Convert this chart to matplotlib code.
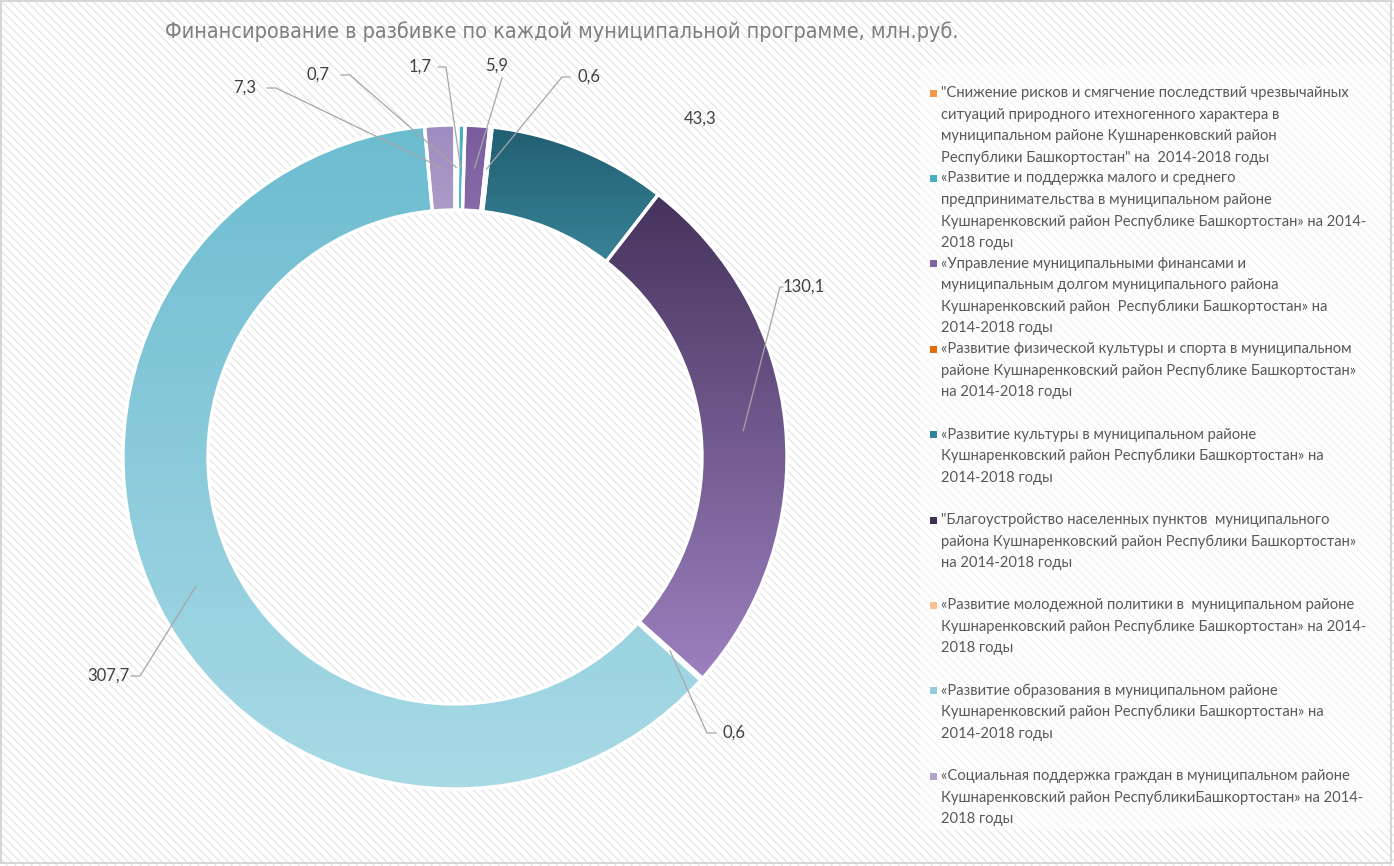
import numpy as np
import matplotlib
matplotlib.use('Agg')
from matplotlib import pyplot as plt
from matplotlib.patches import Wedge, Rectangle
from matplotlib.colors import to_rgb

plt.rcParams['font.family'] = ['Lato', 'DejaVu Sans']
plt.rcParams['hatch.linewidth'] = 0.8

title = 'Финансирование в разбивке по каждой муниципальной программе, млн.руб.'

programs = [
    '"Снижение рисков и смягчение последствий чрезвычайных\nситуаций природного итехногенного характера в\nмуниципальном районе Кушнаренковский район\nРеспублики Башкортостан" на  2014-2018 годы',
    '«Развитие и поддержка малого и среднего\nпредпринимательства в муниципальном районе\nКушнаренковский район Республике Башкортостан» на 2014-\n2018 годы',
    '«Управление муниципальными финансами и\nмуниципальным долгом муниципального района\nКушнаренковский район  Республики Башкортостан» на\n2014-2018 годы',
    '«Развитие физической культуры и спорта в муниципальном\nрайоне Кушнаренковский район Республике Башкортостан»\nна 2014-2018 годы',
    '«Развитие культуры в муниципальном районе\nКушнаренковский район Республики Башкортостан» на\n2014-2018 годы',
    '"Благоустройство населенных пунктов  муниципального\nрайона Кушнаренковский район Республики Башкортостан»\nна 2014-2018 годы',
    '«Развитие молодежной политики в  муниципальном районе\nКушнаренковский район Республике Башкортостан» на 2014-\n2018 годы',
    '«Развитие образования в муниципальном районе\nКушнаренковский район Республики Башкортостан» на\n2014-2018 годы',
    '«Социальная поддержка граждан в муниципальном районе\nКушнаренковский район РеспубликиБашкортостан» на 2014-\n2018 годы',
]
values = [0.7, 1.7, 5.9, 0.6, 43.3, 130.1, 0.6, 307.7, 7.3]
value_labels = ['0,7', '1,7', '5,9', '0,6', '43,3', '130,1', '0,6', '307,7', '7,3']

# gradient (top, bottom) per slice and legend marker colours
grad_colors = [
    ('#e8873a', '#f9b98a'),
    ('#4bacc6', '#8fcbdb'),
    ('#7a5c9e', '#ad99c8'),
    ('#c0651e', '#e6955a'),
    ('#215f72', '#5cb6cc'),
    ('#46335c', '#9c80bf'),
    ('#f5b183', '#fad3b4'),
    ('#6cbcd0', '#a9dae6'),
    ('#a08cbf', '#d0c4e0'),
]
marker_colors = ['#f79646', '#4bacc6', '#8064a2', '#e46c0a', '#31859c',
                 '#403152', '#fac090', '#93cddd', '#b3a2c7']

# label layout in pixels: text centre and leader elbow points
label_pos = [(318, 75), (420, 67), (497, 66), (589, 77), (700, 119),
             (804, 287), (734, 733), (108, 676), (245, 88)]
leader_pts = [[(341, 75), (350, 75)], [(438, 67), (446, 67)], [(502, 78)],
              [(570, 77), (562, 77)], None, [(783, 287), (780, 287)],
              [(716, 733), (707, 733)], [(131, 676), (140, 676)],
              [(267, 88), (276, 88)]]

W, H = 1394, 866
fig = plt.figure(figsize=(W / 100, H / 100), dpi=100)
ax = fig.add_axes([0, 0, 1, 1])
ax.set_xlim(0, W)
ax.set_ylim(H, 0)
ax.axis('off')

# striped background
ax.add_patch(Rectangle((0, 0), W, H, facecolor='white', edgecolor='#e2e2e2',
                       hatch='\\\\\\\\', lw=0, zorder=0))
ax.add_patch(Rectangle((1, 1), W - 4, H - 4, facecolor='none',
                       edgecolor='#d0d0d0', lw=1.2, zorder=1))
# legend panel
ax.add_patch(Rectangle((920, 65), 468, 765, facecolor='white', alpha=0.55,
                       lw=0, zorder=1))

cx, cy, R, width = 455, 457, 332, 85
total = sum(values)
cum = np.concatenate([[0], np.cumsum(values)])
for i, v in enumerate(values):
    t1 = -90 + cum[i] / total * 360
    t2 = -90 + cum[i + 1] / total * 360
    w = Wedge((cx, cy), R, t1, t2, width=width, facecolor='none',
              edgecolor='white', lw=2.4, zorder=3)
    ax.add_patch(w)
    verts = w.get_path().vertices
    x0, x1 = verts[:, 0].min(), verts[:, 0].max()
    y0, y1 = verts[:, 1].min(), verts[:, 1].max()
    c_top, c_bot = np.array(to_rgb(grad_colors[i][0])), np.array(to_rgb(grad_colors[i][1]))
    f = np.linspace(0, 1, 256)[:, None, None]
    grad = c_top * (1 - f) + c_bot * f
    im = ax.imshow(grad, extent=[x0, x1, y1, y0], origin='upper',
                   aspect='auto', zorder=2, interpolation='bilinear')
    im.set_clip_path(w)

    # data label + leader line
    mid = np.deg2rad((t1 + t2) / 2)
    rm = R - width / 2
    px, py = cx + rm * np.cos(mid), cy + rm * np.sin(mid)
    lx, ly = label_pos[i]
    ax.text(lx, ly, value_labels[i], ha='center', va='center', fontsize=12,
            color='#404040', zorder=5)
    if leader_pts[i] is not None:
        pts = leader_pts[i] + [(px, py)]
        ax.plot([p[0] for p in pts], [p[1] for p in pts], color='#a6a6a6',
                lw=0.9, zorder=4)

ax.set_xlim(0, W)
ax.set_ylim(H, 0)

ax.text(562, 32, title, ha='center', va='center', fontsize=15.5,
        color='#7f7f7f', family='DejaVu Sans', fontstretch='condensed', zorder=5)

# legend
for i, text in enumerate(programs):
    y = 93 + 85.4 * i
    ax.add_patch(Rectangle((930, y - 3.5), 7, 7, facecolor=marker_colors[i],
                           lw=0, zorder=5))
    for j, line in enumerate(text.split('\n')):
        ax.text(941, y + 21.5 * j, line, ha='left', va='center', fontsize=10.6,
                color='#595959', zorder=5)

fig.savefig('out.png', dpi=100)
